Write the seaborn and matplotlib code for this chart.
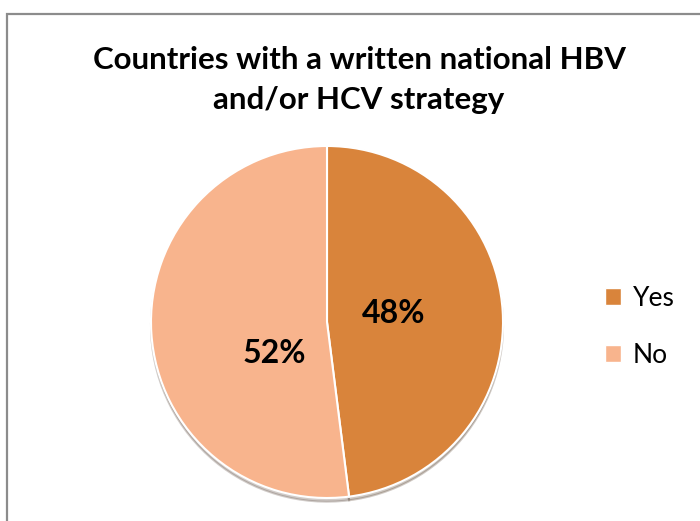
import matplotlib
matplotlib.use("Agg")
import matplotlib.pyplot as plt
import matplotlib.patches as mpatches
import seaborn as sns

labels = ["Yes", "No"]
shares = [48, 52]
colors = ["#D9843B", "#F8B48D"]
title = "Countries with a written national HBV\nand/or HCV strategy"

sns.set_theme(style="white")
plt.rcParams["font.family"] = ["Lato", "DejaVu Sans"]
plt.rcParams["text.color"] = "black"

fig = plt.figure(figsize=(7, 5.21), dpi=100)

# grey chart frame (cut off at right/bottom like the screenshot)
frame = mpatches.Rectangle((7 / 700, -0.2), 1.2, 1 - 14 / 521 + 0.2,
                           transform=fig.transFigure, fill=False,
                           edgecolor="#8c8c8c", linewidth=1.6, clip_on=False)
fig.patches.append(frame)

r = 176
cx, cy = 327, 521 - 322
ax = fig.add_axes([(cx - r) / 700, (cy - r) / 521, 2 * r / 700, 2 * r / 521])
wedges, texts, autotexts = ax.pie(
    shares, colors=colors, startangle=90, counterclock=False,
    autopct="%d%%", pctdistance=0.38,
    wedgeprops=dict(edgecolor="white", linewidth=1.5),
    shadow=dict(ox=0.0, oy=-0.015, alpha=0.25),
    textprops=dict(fontsize=23, fontweight="bold", color="black"),
)
autotexts[0].set_position((0.38, 0.05))
autotexts[1].set_position((-0.30, -0.18))
ax.set_xlim(-1, 1)
ax.set_ylim(-1, 1)
ax.set_aspect("equal")
ax.axis("off")

fig.text(0.513, 1 - 80 / 521, title, ha="center", va="center",
         fontsize=22.5, fontweight="bold", linespacing=1.5, color="black")

handles = [mpatches.Patch(facecolor=c, edgecolor="white", label=l)
           for c, l in zip(colors, labels)]
fig.legend(handles=handles, loc="center left", bbox_to_anchor=(0.83, 1 - 327 / 521),
           frameon=False, fontsize=19, handlelength=0.6, handleheight=0.6,
           handletextpad=0.45, labelspacing=1.2, labelcolor="black")

fig.savefig("out.png", dpi=100)
